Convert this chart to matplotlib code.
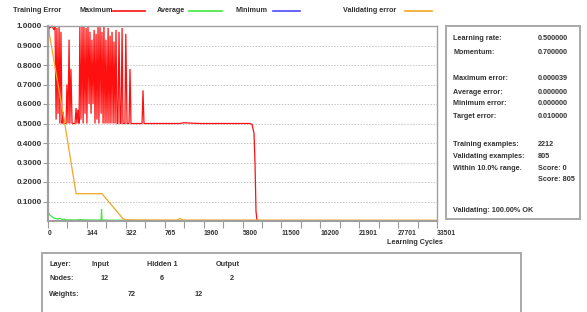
import numpy as np
import matplotlib
matplotlib.use("Agg")
import matplotlib.pyplot as plt
from matplotlib.lines import Line2D
from matplotlib.patches import Rectangle

plt.rcParams['font.family'] = ['Liberation Sans', 'DejaVu Sans']

# ---------------- DATA ----------------
CYCLE_TICKS = [0, 144, 322, 765, 1960, 5800, 11500, 16200, 21901, 27701, 33501]
Y_TICKS = [0.1, 0.2, 0.3, 0.4, 0.5, 0.6, 0.7, 0.8, 0.9, 1.0]

# Maximum error (red)
MAX_X = [0, 4, 7, 15, 22, 26, 30, 33, 37, 41, 44, 48, 52, 56, 59, 67, 70, 74, 78, 81,
         85, 89, 100, 104, 107, 111, 115, 118, 122, 126, 130, 133, 137, 141, 144, 149,
         154, 158, 163, 167, 172, 177, 181, 186, 190, 195, 199, 204, 209, 213, 218, 222,
         227, 231, 236, 241, 245, 250, 254, 259, 264, 268, 273, 277, 282, 286, 291, 296,
         300, 305, 309, 318, 322, 336, 359, 370, 381, 507, 518, 529, 1235, 1358, 1542,
         1850, 6899, 7192, 7485, 7631, 7778, 7924, 33501]
MAX_Y = [0.89, 1.0, 0.99, 1.0, 0.98, 1.0, 0.52, 0.99, 0.55, 1.0, 0.5, 0.97, 0.5, 0.56,
         0.5, 0.5, 0.70, 0.5, 0.93, 0.5, 0.78, 0.5, 0.5, 0.58, 0.5, 0.57, 0.5, 1.0, 0.52,
         1.0, 0.5, 1.0, 0.55, 0.99, 0.5, 1.0, 0.6, 0.97, 0.55, 0.93, 0.6, 0.98, 0.5, 0.96,
         0.52, 1.0, 0.5, 1.0, 0.55, 0.97, 0.5, 1.0, 0.5, 0.93, 0.5, 0.99, 0.5, 0.95, 0.5,
         0.97, 0.5, 0.92, 0.5, 0.98, 0.5, 0.5, 0.97, 0.5, 0.5, 0.99, 0.5, 0.5, 0.96, 0.5,
         0.5, 0.78, 0.5, 0.5, 0.67, 0.5, 0.5, 0.504, 0.502, 0.5, 0.5, 0.495, 0.45, 0.3,
         0.05, 0.001, 0.001]

# Average error (green)
AVG_X = [0, 4, 7, 15, 22, 30, 37, 44, 52, 59, 67, 81, 100, 118, 158, 204, 209, 211,
         213, 250, 296, 370, 450, 484, 33501]
AVG_Y = [0.045, 0.038, 0.03, 0.022, 0.015, 0.012, 0.01, 0.014, 0.008, 0.01, 0.006,
         0.006, 0.005, 0.007, 0.005, 0.005, 0.005, 0.06, 0.005, 0.004, 0.004, 0.003,
         0.002, 0.0, 0.0]

# Minimum error (blue)
MIN_X = [0, 450, 484, 33501]
MIN_Y = [0.002, 0.002, 0.0, 0.0]

# Validating error (orange)
VAL_X = [0, 62, 104, 213, 309, 322, 1143, 1235, 1327, 33501]
VAL_Y = [1.0, 0.5, 0.14, 0.14, 0.012, 0.006, 0.005, 0.013, 0.005, 0.004]

LEGEND_NAMES = ["Maximum", "Average", "Minimum", "Validating error"]
LEGEND_COLORS = ["#ff1010", "#3ee83e", "#4a4aff", "#f5a623"]

STAT_LABELS = ["Learning rate:", "Momentum:", "Maximum error:", "Average error:",
               "Minimum error:", "Target error:", "Training examples:",
               "Validating examples:", "Within 10.0% range.", "", "Validating: 100.00% OK"]
STAT_VALUES = ["0.500000", "0.700000", "0.000039", "0.000000", "0.000000", "0.010000",
               "2212", "805", "Score: 0", "Score: 805", ""]

LAYER_NAMES = ["Input", "Hidden 1", "Output"]
NODES = [12, 6, 2]
WEIGHTS = [72, 12]
# --------------------------------------

W, H = 587, 312
TXT = "#333333"
GRAY = "#a8a8a8"


def fx(px):
    return px / W


def fy(py):
    return 1 - py / H


fig = plt.figure(figsize=(W / 100, H / 100), dpi=100)
fig.patch.set_facecolor("white")

# main plot
ax = fig.add_axes([fx(48), fy(221), 389 / W, 195 / H])
idx = np.arange(len(CYCLE_TICKS), dtype=float)


def fwd(x):
    return np.interp(x, CYCLE_TICKS, idx)


def inv(i):
    return np.interp(i, idx, CYCLE_TICKS)


ax.set_xscale("function", functions=(fwd, inv))
ax.set_xlim(0, CYCLE_TICKS[-1])
ax.set_ylim(0, 1.0)

for xs, ys, c in [(MAX_X, MAX_Y, LEGEND_COLORS[0]), (AVG_X, AVG_Y, LEGEND_COLORS[1]),
                  (MIN_X, MIN_Y, LEGEND_COLORS[2]), (VAL_X, VAL_Y, LEGEND_COLORS[3])]:
    ax.plot(xs, ys, color=c, lw=0.9, clip_on=False, solid_joinstyle="miter")

ax.set_yticks(Y_TICKS, [f"{v:.4f}" for v in Y_TICKS])
ax.set_xticks(CYCLE_TICKS, [str(v) for v in CYCLE_TICKS])
ax.set_xticks(inv(idx[:-1] + 0.5), minor=True)
for lab in ax.get_xticklabels():
    lab.set_horizontalalignment("left")
ax.tick_params(axis="x", which="both", length=5, width=0.8, color="#999999",
               pad=1.5, labelsize=4.9, labelcolor=TXT)
ax.tick_params(axis="y", length=3.5, width=0.8, color="#999999", pad=1,
               labelsize=5.9, labelcolor=TXT)
for lab in ax.get_xticklabels() + ax.get_yticklabels():
    lab.set_fontweight("bold")

ax.yaxis.grid(True, ls=(0, (1.5, 1.5)), color="#c4c4c4", lw=0.7)
ax.set_axisbelow(True)
for side, lw in [("left", 1.6), ("bottom", 1.4), ("top", 1.0), ("right", 1.0)]:
    ax.spines[side].set_color("#a0a0a0")
    ax.spines[side].set_linewidth(lw)

fig.text(fx(415), fy(242), "Learning Cycles", ha="center", va="center",
         fontsize=5.2, fontweight="bold", color=TXT)

# legend row
fig.text(fx(13), fy(11), "Training Error", ha="left", va="center", fontsize=5.2,
         fontweight="bold", color=TXT)
leg_text_x = [79, 157, 235, 343]
leg_line_x = [(113, 145), (189, 222), (273, 300), (405, 432)]
for name, c, tx, (l0, l1) in zip(LEGEND_NAMES, LEGEND_COLORS, leg_text_x, leg_line_x):
    fig.text(fx(tx), fy(11), name, ha="left", va="center", fontsize=5.2,
             fontweight="bold", color=TXT)
    fig.add_artist(Line2D([fx(l0), fx(l1)], [fy(11), fy(11)], color=c, lw=1.2,
                          transform=fig.transFigure))

# stats panel
fig.add_artist(Rectangle((fx(446), fy(219)), (580 - 446) / W, (219 - 26) / H,
                         transform=fig.transFigure, fill=False, ec=GRAY, lw=1.4))
stat_rows = [39, 52, 79, 92, 104, 116, 144, 156, 168, 180, 210]
for lab, val, py in zip(STAT_LABELS, STAT_VALUES, stat_rows):
    if lab:
        fig.text(fx(453), fy(py), lab, ha="left", va="center", fontsize=5.2,
                 fontweight="bold", color=TXT)
    if val:
        fig.text(fx(538), fy(py), val, ha="left", va="center", fontsize=5.2,
                 fontweight="bold", color=TXT)

# network panel
fig.add_artist(Rectangle((fx(42), fy(330)), (521 - 42) / W, (330 - 253) / H,
                         transform=fig.transFigure, fill=False, ec=GRAY, lw=1.4))
fig.text(fx(49), fy(265), "Layer:", ha="left", va="center", fontsize=5.2,
         fontweight="bold", color=TXT)
fig.text(fx(49), fy(279), "Nodes:", ha="left", va="center", fontsize=5.2,
         fontweight="bold", color=TXT)
fig.text(fx(49), fy(294), "Weights:", ha="left", va="center", fontsize=5.2,
         fontweight="bold", color=TXT)
for name, n, lx, nx in zip(LAYER_NAMES, NODES, [91, 147, 216], [100, 160, 230]):
    fig.text(fx(lx), fy(265), name, ha="left", va="center", fontsize=5.2,
             fontweight="bold", color=TXT)
    fig.text(fx(nx), fy(279), str(n), ha="left", va="center", fontsize=5.2,
             fontweight="bold", color=TXT)
for w, wx in zip(WEIGHTS, [128, 194]):
    fig.text(fx(wx), fy(294), str(w), ha="left", va="center", fontsize=5.2,
             fontweight="bold", color=TXT)

fig.savefig("out.png", dpi=100)
